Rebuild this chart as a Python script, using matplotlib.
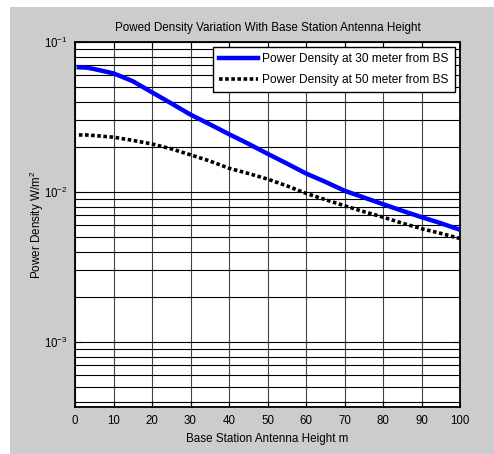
import math
import matplotlib
matplotlib.use("Agg")
import matplotlib.pyplot as plt
from matplotlib.patches import Rectangle
from matplotlib.ticker import LogLocator, FixedLocator, NullFormatter, FuncFormatter

plt.rcParams['font.family'] = ['Liberation Sans', 'DejaVu Sans']
plt.rcParams['mathtext.fontset'] = 'custom'
plt.rcParams['mathtext.rm'] = 'Liberation Sans'
plt.rcParams['mathtext.it'] = 'Liberation Sans'

# Data
height_m = [1, 3, 5, 10, 15, 20, 25, 30, 35, 40, 45, 50, 55, 60, 65, 70, 75, 80, 85, 90, 95, 100]
pd_30m = [0.0678, 0.0675, 0.0660, 0.0618, 0.0548, 0.0462, 0.0390, 0.0328, 0.0283, 0.0243,
          0.0210, 0.0180, 0.0155, 0.0133, 0.0117, 0.0102, 0.0092, 0.0083, 0.0075, 0.0068,
          0.0062, 0.0056]
pd_50m = [0.0240, 0.0240, 0.0238, 0.0232, 0.0221, 0.0209, 0.0194, 0.0177, 0.0161, 0.0144,
          0.0133, 0.0122, 0.0110, 0.0098, 0.0089, 0.0081, 0.0074, 0.0068, 0.0062, 0.0057,
          0.0053, 0.0049]
x_ticks = [0, 10, 20, 30, 40, 50, 60, 70, 80, 90, 100]
y_ticks = [1e-3, 1e-2, 1e-1]

fig = plt.figure(figsize=(4.94, 4.54), dpi=100, facecolor='white')
fig.patches.append(Rectangle((10/494, 0), 1 - 10/494, 1 - 7/454, transform=fig.transFigure,
                             facecolor='#cccccc', edgecolor='none', zorder=-10))

ax = fig.add_axes([75/494, 1 - 407/454, (460 - 75)/494, (407 - 42)/454])
ax.set_facecolor('white')

ax.plot(height_m, pd_30m, color='#0000ff', lw=3.2, label='Power Density at 30 meter from BS', zorder=3)
ax.plot(height_m, pd_50m, color='black', lw=2.6, linestyle=(0, (1, 0.7)),
        label='Power Density at 50 meter from BS', zorder=3)

ax.set_yscale('log')
ax.set_xlim(0, 100)
ax.set_ylim(10**-3.433, 0.1)
ax.set_xticks(x_ticks)
ax.yaxis.set_major_locator(FixedLocator(y_ticks))
ax.yaxis.set_minor_locator(LogLocator(base=10, subs=range(2, 10), numticks=20))
ax.yaxis.set_minor_formatter(NullFormatter())

def yfmt(v, pos):
    e = int(round(math.log10(v)))
    return r'$10^{%d}$' % e
ax.yaxis.set_major_formatter(FuncFormatter(yfmt))

ax.grid(True, which='major', axis='x', color='#444444', lw=0.8)
ax.grid(True, which='both', axis='y', color='black', lw=0.8)
ax.tick_params(which='both', direction='in', top=True, right=True, labelsize=8.3, colors='black')
ax.tick_params(which='major', length=4)
ax.tick_params(axis='x', which='major', pad=6)
ax.tick_params(axis='y', which='major', pad=5)
ax.tick_params(which='minor', length=2)
for s in ax.spines.values():
    s.set_linewidth(1.3)
    s.set_color('black')

ax.set_title('Powed Density Variation With Base Station Antenna Height', fontsize=8.4, pad=8)
ax.set_xlabel('Base Station Antenna Height m', fontsize=8.4, labelpad=4)
ax.set_ylabel('Power Density W/m$^2$', fontsize=8.4)
ax.yaxis.set_label_coords(-0.075, 0.5)

leg = ax.legend(loc='upper right', fontsize=8.6, frameon=True, fancybox=False, framealpha=1,
                edgecolor='black', borderaxespad=0.45, handlelength=3.2, handletextpad=0.4,
                labelspacing=0.75, borderpad=0.5)
leg.get_frame().set_linewidth(1.0)

fig.savefig('out.png', dpi=100, facecolor=fig.get_facecolor())
